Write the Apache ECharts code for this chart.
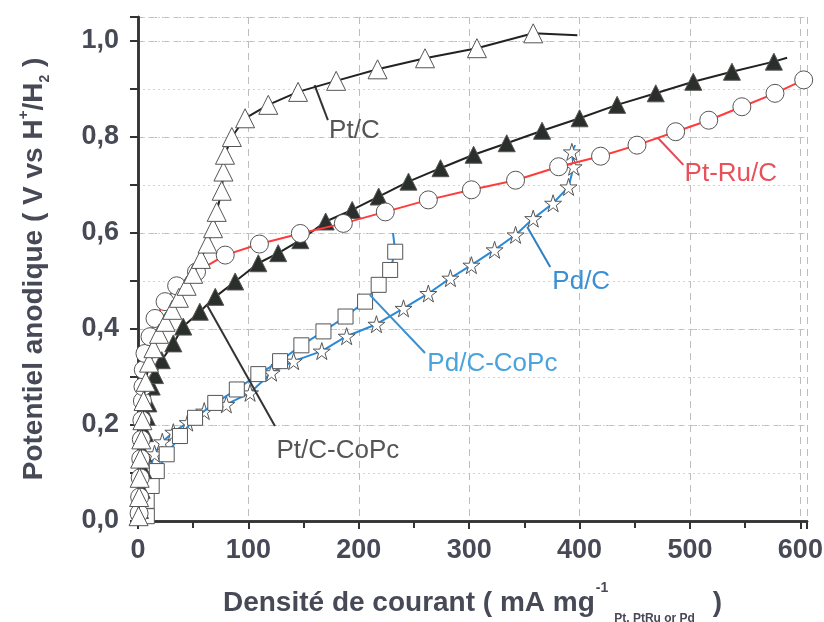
<!DOCTYPE html>
<html>
<head>
<meta charset="utf-8">
<script src="https://cdn.jsdelivr.net/npm/echarts@6/dist/echarts.min.js"></script>
<style>html,body{margin:0;padding:0;background:#fff}#chart{width:824px;height:622px}</style>
</head>
<body>
<div id="chart"></div>
<script>
// points: [current density mA/mg, potential V]
var ptC=[[0.5,0.01],[1,0.05],[1.5,0.09],[2,0.13],[3,0.17],[4,0.21],[5,0.25],[7,0.29],[10,0.33],[14,0.36],[19,0.39],[25,0.415],[31,0.44],[37,0.465],[44,0.49],[50,0.515],[57,0.546],[63,0.578],[68,0.61],[71.3,0.644],[75.8,0.688],[77.4,0.728],[78.8,0.763],[85,0.80],[97,0.839],[118,0.867],[145,0.894],[179.5,0.917],[217,0.941],[260,0.964],[307,0.985],[358,1.016]];
var ptCEnd=[398,1.012];
var ptCCoPc=[[1.8,0.023],[3.3,0.065],[4.8,0.106],[4.8,0.141],[6.3,0.183],[7.9,0.217],[9.4,0.245],[12.4,0.28],[15.4,0.304],[21.5,0.335],[32,0.37],[41,0.405],[56,0.436],[70,0.467],[88,0.499],[109,0.537],[127,0.558],[147,0.585],[170,0.624],[194,0.648],[218,0.676],[245,0.707],[274,0.735],[304,0.763],[334,0.787],[366,0.813],[400,0.839],[434,0.867],[469,0.891],[503,0.915],[538,0.936],[576,0.957]];
var ptCCoPcEnd=[588,0.965];
var ptRuC=[[1,0.016],[1.5,0.05],[2,0.09],[2.5,0.13],[3,0.17],[3.5,0.21],[4,0.25],[4.5,0.28],[4.8,0.315],[6.3,0.349],[10.9,0.384],[15.4,0.422],[24.5,0.457],[35,0.49],[53,0.519],[79,0.554],[110,0.577],[147,0.599],[186,0.62],[224,0.644],[263,0.669],[302,0.69],[342,0.71],[381,0.738],[419,0.76],[452,0.783],[487,0.811],[517,0.835],[547,0.863],[577,0.891],[603,0.919]];
var pdC=[[3,0.02],[5,0.05],[8,0.08],[11,0.11],[15,0.14],[22,0.165],[32,0.185],[45,0.205],[60,0.229],[80,0.243],[101.5,0.267],[121,0.309],[141,0.333],[166.5,0.354],[189,0.385],[216,0.41],[240.5,0.443],[263,0.474],[283,0.506],[302,0.533],[323,0.565],[342,0.596],[358,0.63],[376,0.662],[390,0.696],[394.6,0.738],[393,0.769]];
var pdCEnd=[396,0.783];
var pdCCoPc=[[8,0.01],[7.9,0.042],[12.4,0.073],[17,0.104],[26,0.139],[38,0.177],[51.7,0.215],[70,0.246],[89.5,0.274],[109,0.306],[128.7,0.333],[148,0.366],[168,0.395],[188,0.426],[205.7,0.457],[218,0.492],[228.4,0.523],[233,0.561]];
var pdCCoPcEnd=[231,0.6];

var xTicks=[0,100,200,300,400,500,600];
var yTicks=[0,0.2,0.4,0.6,0.8,1.0];

// labels and leader lines, in data coordinates
var notes={
  "Pt/C":{color:"#555",line:"#333",from:[160,0.908],to:[172,0.835],at:[196,0.8125]},
  "Pt/C-CoPc":{color:"#555",line:"#333",from:[62.5,0.45],to:[124,0.198],at:[181,0.146]},
  "Pt-Ru/C":{color:"#e8505a",line:"#e24b55",from:[471,0.798],to:[494,0.742],at:[537,0.723]},
  "Pd/C":{color:"#3b8fd4",line:"#2f7fc0",from:[352.6,0.6125],to:[373.4,0.529],at:[401.5,0.498]},
  "Pd/C-CoPc":{color:"#4aa3dc",line:"#3a8fd0",from:[210,0.471],to:[260,0.35],at:[321,0.327]}
};

var FONT="Liberation Sans, Arial, sans-serif";
var TXT="#474a56";
var AXIS="#333";
var starPath="path://M50,0 L61,35 L98,35 L68,57 L79,91 L50,70 L21,91 L32,57 L2,35 L39,35 Z";

function mk(name,data,end,symbol,size,fill,lineColor,z){
  var d=data.slice();
  if(end) d.push({value:end,symbol:"none"});
  var n=notes[name];
  return {
    name:name,type:"line",data:d,symbol:symbol,symbolSize:size,z:z,
    lineStyle:{color:lineColor,width:2},
    itemStyle:{color:fill,borderColor:"#555",borderWidth:1},
    emphasis:{disabled:true},
    markLine:{silent:true,symbol:["none","none"],animation:false,
      lineStyle:{color:n.line,width:2,type:"solid"},label:{show:false},
      data:[[{coord:n.from},{coord:n.to}]]},
    markPoint:{silent:true,animation:false,symbol:"circle",symbolSize:1,
      itemStyle:{color:"rgba(0,0,0,0)"},
      label:{show:true,position:"inside",formatter:name,fontFamily:FONT,fontSize:26,color:n.color},
      data:[{coord:n.at}]}
  };
}

var chart=echarts.init(document.getElementById("chart"));
var options={
  backgroundColor:"#fff",
  animation:false,
  grid:{left:138,right:17,top:17,bottom:101,containLabel:false,outerBoundsMode:"none"},
  xAxis:[
    {type:"value",min:0,max:606,interval:100,position:"bottom",
      axisLine:{lineStyle:{color:AXIS,width:2.5}},
      axisTick:{length:8,lineStyle:{color:AXIS,width:2}},
      splitLine:{show:true,lineStyle:{color:"#bdbdbd",type:[7,5],width:1}},
      axisLabel:{margin:16,fontFamily:FONT,fontWeight:"bold",fontSize:27,color:TXT,
        formatter:function(v){return xTicks.indexOf(v)>=0?String(v):"";}},
      nameLocation:"middle",nameGap:60,
      name:"{a|Densité de courant ( mA mg}{sup|-1}{sub|Pt, PtRu or Pd}{a| )}",
      nameTextStyle:{rich:{
        a:{fontFamily:FONT,fontWeight:"bold",fontSize:28,color:TXT,lineHeight:44,verticalAlign:"middle"},
        sup:{fontFamily:FONT,fontWeight:"bold",fontSize:14,color:TXT,lineHeight:4,verticalAlign:"top",padding:[0,6,0,1]},
        sub:{fontFamily:FONT,fontWeight:"bold",fontSize:12,color:TXT,lineHeight:18,verticalAlign:"bottom",padding:[0,10,0,0]}
      }}},
    {type:"value",min:0,max:606,interval:50,position:"bottom",
      axisLine:{show:false},axisTick:{length:6,lineStyle:{color:AXIS,width:2}},
      axisLabel:{show:false},splitLine:{show:false}},
    {type:"value",min:0,max:606,interval:50,position:"top",
      axisLine:{lineStyle:{color:AXIS,width:2.5}},
      axisTick:{inside:true,length:7,lineStyle:{color:AXIS,width:2}},
      axisLabel:{show:false},splitLine:{show:false}}
  ],
  yAxis:[
    {type:"value",min:0,max:1.05,interval:0.2,position:"left",
      axisLine:{lineStyle:{color:AXIS,width:2.5}},
      axisTick:{length:8,lineStyle:{color:AXIS,width:2}},
      splitLine:{show:true,lineStyle:{color:"#bdbdbd",type:[7,5],width:1}},
      axisLabel:{margin:19,fontFamily:FONT,fontWeight:"bold",fontSize:27,color:TXT,
        formatter:function(v){
          var t=Math.round(v*10)/10;
          return yTicks.indexOf(t)>=0 && v<=1.0001 ? t.toFixed(1).replace(".",",") : "";
        }},
      nameLocation:"middle",nameGap:86,
      name:"{a|Potentiel anodique ( V vs H}{sup|+}{a|/H}{sub|2}{a| )}",
      nameTextStyle:{rich:{
        a:{fontFamily:FONT,fontWeight:"bold",fontSize:28,color:TXT,lineHeight:36,verticalAlign:"middle"},
        sup:{fontFamily:FONT,fontWeight:"bold",fontSize:15,color:TXT,lineHeight:4,verticalAlign:"top"},
        sub:{fontFamily:FONT,fontWeight:"bold",fontSize:14,color:TXT,lineHeight:16,verticalAlign:"bottom"}
      }}},
    {type:"value",min:0,max:1.05,interval:0.1,position:"left",
      axisLine:{show:false},axisTick:{length:6,lineStyle:{color:AXIS,width:2}},
      axisLabel:{show:false},splitLine:{show:false}},
    {type:"value",min:0,max:1.05,interval:0.1,position:"right",
      axisLine:{lineStyle:{color:AXIS,width:2.5}},
      axisTick:{inside:true,length:8,lineStyle:{color:AXIS,width:2}},
      axisLabel:{show:false},
      splitLine:{show:true,lineStyle:{color:"#d4d4d4",type:[2,3],width:1}}}
  ],
  series:[
    mk("Pd/C",pdC,pdCEnd,starPath,17,"#fff","#2b8ad8",3),
    mk("Pd/C-CoPc",pdCCoPc,pdCCoPcEnd,"rect",15,"#fff","#2b8ad8",4),
    mk("Pt/C-CoPc",ptCCoPc,ptCCoPcEnd,"triangle",17,"#2a2f2c","#222",5),
    mk("Pt-Ru/C",ptRuC,null,"circle",18,"#fff","#ff3b3b",6),
    mk("Pt/C",ptC,ptCEnd,"triangle",19,"#fff","#222",7)
  ]
};
chart.setOption(options);
</script>
</body>
</html>
